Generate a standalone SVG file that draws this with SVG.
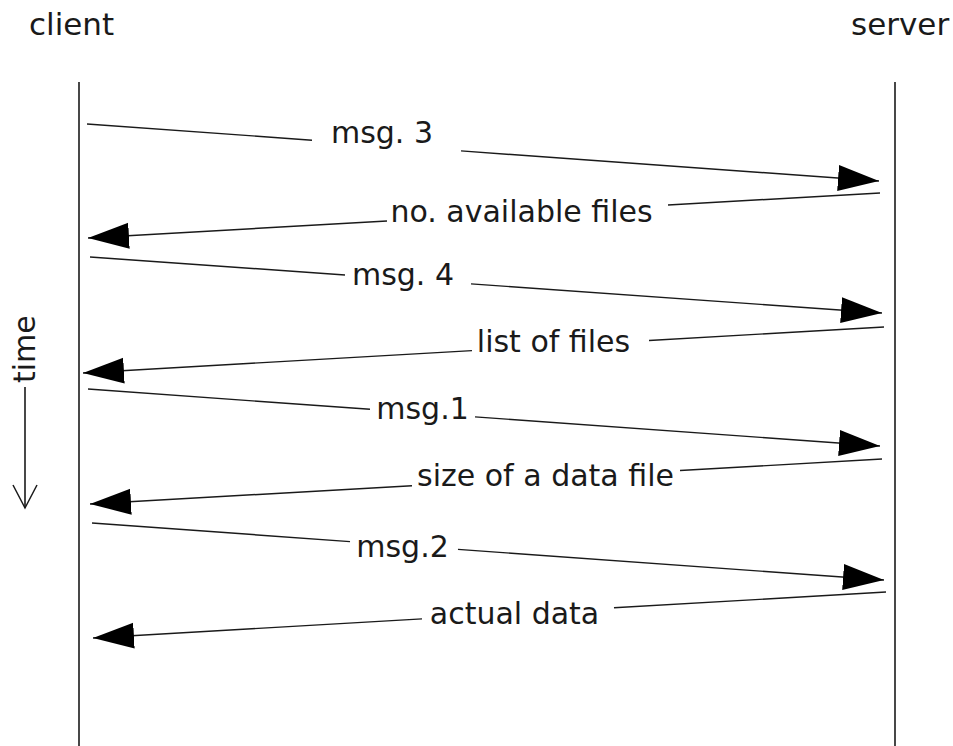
<svg xmlns="http://www.w3.org/2000/svg" width="953" height="746" viewBox="0 0 953 746">
<style>
text{font-family:"DejaVu Sans","Liberation Sans",sans-serif;font-size:30px;fill:#1a1a1a}
.lbl{text-anchor:middle}
.head{font-size:31px}
.life{stroke:#1a1a1a;stroke-width:1.6;fill:none}
.msg{stroke:#1a1a1a;stroke-width:1.4;fill:none}
</style>
<defs>
<marker id="ah" markerUnits="userSpaceOnUse" markerWidth="42" markerHeight="30" viewBox="0 -14 42 28" refX="41" refY="0" orient="auto">
<path d="M0,-13 L41,0 L0,13 Z" fill="#000"/>
</marker>
<marker id="open" markerUnits="userSpaceOnUse" markerWidth="30" markerHeight="30" viewBox="-26 -15 30 30" refX="0" refY="0" orient="auto">
<path d="M-23,-12 L0,0 L-23,12" fill="none" stroke="#1a1a1a" stroke-width="1.5"/>
</marker>
</defs>
<g id="client">
<text class="head" x="29" y="35">client</text>
<line class="life" x1="79" y1="82" x2="79" y2="746"/>
</g>
<g id="server">
<text class="head" x="851" y="35">server</text>
<line class="life" x1="895" y1="82" x2="895" y2="746"/>
</g>
<g id="time">
<text transform="translate(35,383) rotate(-90)">time</text>
<line class="life" x1="25" y1="387" x2="25" y2="508" marker-end="url(#open)"/>
</g>
<g id="connectors">
<path class="msg" d="M87,124 L312,140.2"/>
<path class="msg" d="M461,150.9 L879,181" marker-end="url(#ah)"/>
<path class="msg" d="M880,193 L668,205"/>
<path class="msg" d="M387,221 L88,238" marker-end="url(#ah)"/>
<path class="msg" d="M90,257 L345,275"/>
<path class="msg" d="M471,283.9 L882,313" marker-end="url(#ah)"/>
<path class="msg" d="M884,327 L649,340.5"/>
<path class="msg" d="M472,350.6 L83,373" marker-end="url(#ah)"/>
<path class="msg" d="M88,389 L370,409.3"/>
<path class="msg" d="M475,416.9 L880,446" marker-end="url(#ah)"/>
<path class="msg" d="M882,459 L680,470.5"/>
<path class="msg" d="M412,485.7 L90,504" marker-end="url(#ah)"/>
<path class="msg" d="M92,523 L350,541.6"/>
<path class="msg" d="M458,549.4 L884,580" marker-end="url(#ah)"/>
<path class="msg" d="M886,592 L614,607.8"/>
<path class="msg" d="M422,618.9 L93,638" marker-end="url(#ah)"/>
</g>
<g id="labels">
<text class="lbl" x="382" y="143">msg. 3</text>
<text class="lbl" x="521.5" y="222">no. available files</text>
<text class="lbl" x="403" y="285">msg. 4</text>
<text class="lbl" x="553.5" y="352">list of files</text>
<text class="lbl" x="422.5" y="419">msg.1</text>
<text class="lbl" x="545.5" y="486">size of a data file</text>
<text class="lbl" x="402.5" y="557">msg.2</text>
<text class="lbl" x="514.5" y="624">actual data</text>
</g>
</svg>
